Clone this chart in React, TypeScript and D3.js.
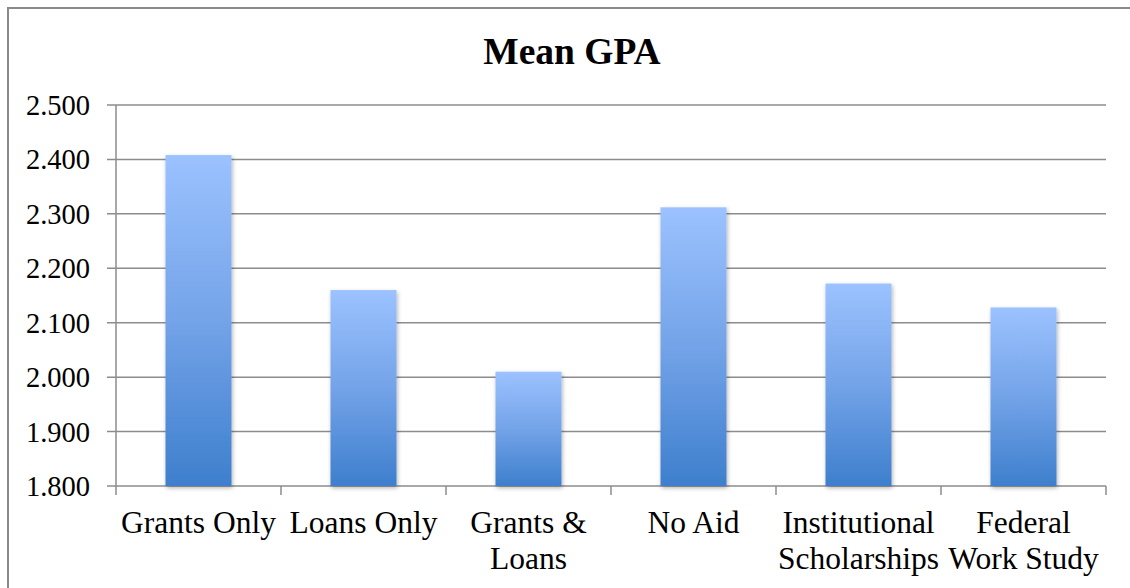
import React from "react";
import * as d3 from "d3";

const categories = [
  ["Grants Only"],
  ["Loans Only"],
  ["Grants &", "Loans"],
  ["No Aid"],
  ["Institutional", "Scholarships"],
  ["Federal", "Work Study"],
];
const meanGpa = [2.408, 2.16, 2.01, 2.312, 2.172, 2.128];
const yTicks = [1.8, 1.9, 2.0, 2.1, 2.2, 2.3, 2.4, 2.5];
const title = "Mean GPA";

const W = 1130;
const H = 588;
const margin = { top: 105, right: 24, bottom: 102, left: 116 };

const App = () => {
  const x = d3
    .scaleBand<number>()
    .domain(d3.range(categories.length))
    .range([margin.left, W - margin.right])
    .paddingInner(0.6)
    .paddingOuter(0.3);
  const y = d3.scaleLinear().domain([1.8, 2.5]).range([H - margin.bottom, margin.top]);
  const step = x.step();
  const font = "Liberation Serif, serif";

  return (
    <svg width={W} height={H} style={{ position: "absolute", left: 0, top: 0 }}>
      <defs>
        <linearGradient id="barGrad" x1="0" y1="0" x2="0" y2="1">
          <stop offset="0%" stopColor="#9cc2ff" />
          <stop offset="50%" stopColor="#73a3e8" />
          <stop offset="100%" stopColor="#3e7fcd" />
        </linearGradient>
        <filter id="shadow" x="-20%" y="-5%" width="140%" height="110%">
          <feDropShadow dx="1" dy="2" stdDeviation="2" floodColor="#000" floodOpacity="0.3" />
        </filter>
      </defs>
      <rect x={8} y={8} width={W + 10} height={H + 10} fill="#fff" stroke="#8a8a8a" strokeWidth={2} />
      <text x={572} y={64} textAnchor="middle" fontFamily={font} fontWeight="bold" fontSize={37.5}>
        {title}
      </text>
      {yTicks.map((t) => (
        <g key={t}>
          <line
            x1={margin.left - 9}
            x2={W - margin.right}
            y1={y(t)}
            y2={y(t)}
            stroke="#8c8c8c"
            strokeWidth={1.5}
          />
          <text
            x={margin.left - 26}
            y={y(t) + 10}
            textAnchor="end"
            fontFamily={font}
            fontSize={28.5}
          >
            {t.toFixed(3)}
          </text>
        </g>
      ))}
      <line
        x1={margin.left}
        x2={margin.left}
        y1={margin.top}
        y2={H - margin.bottom}
        stroke="#8c8c8c"
        strokeWidth={1.5}
      />
      {d3.range(categories.length + 1).map((i) => {
        const xx = margin.left + i * step;
        return (
          <line
            key={i}
            x1={xx}
            x2={xx}
            y1={H - margin.bottom}
            y2={H - margin.bottom + 9}
            stroke="#8c8c8c"
            strokeWidth={1.5}
          />
        );
      })}
      {meanGpa.map((v, i) => (
        <rect
          key={i}
          x={x(i)}
          y={y(v)}
          width={x.bandwidth()}
          height={y(1.8) - y(v)}
          fill="url(#barGrad)"
          filter="url(#shadow)"
        />
      ))}
      {categories.map((lines, i) => (
        <text
          key={i}
          x={(x(i) as number) + x.bandwidth() / 2}
          y={533}
          textAnchor="middle"
          fontFamily={font}
          fontSize={31.5}
        >
          {lines.map((l, j) => (
            <tspan key={j} x={(x(i) as number) + x.bandwidth() / 2} dy={j === 0 ? 0 : 36}>
              {l}
            </tspan>
          ))}
        </text>
      ))}
    </svg>
  );
};

export default App;
